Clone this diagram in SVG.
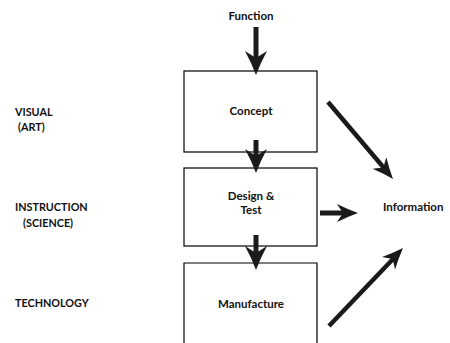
<svg xmlns="http://www.w3.org/2000/svg" width="450" height="343" viewBox="0 0 450 343">
  <style>
    text { font-family: Lato, "Liberation Sans", sans-serif; font-weight: bold; font-size: 11.5px; fill: #111; }
    .caps { font-size: 10.8px; }
    .c { text-anchor: middle; }
    .box { fill: #fff; stroke: #000; stroke-width: 1.2; }
    .shaft { stroke: #1a1a1a; stroke-width: 5; fill: none; }
    .thin { stroke-width: 4.5; }
    .head { fill: #1a1a1a; }
  </style>
  <defs>
    <path id="headV" d="M0,0 Q-13,-5 -24,-11 L-17,0 L-24,11 Q-13,5 0,0 Z"/>
    <path id="headD" d="M0,0 Q-11,-4 -21,-9 L-15,0 L-21,9 Q-11,4 0,0 Z"/>
  </defs>

  <g id="labels">
    <text class="caps" x="15" y="116">VISUAL</text>
    <text class="caps" x="18" y="131">(ART)</text>
    <text class="caps" x="15" y="211">INSTRUCTION</text>
    <text class="caps" x="23" y="227">(SCIENCE)</text>
    <text class="caps" x="15" y="307">TECHNOLOGY</text>
  </g>

  <g id="function">
    <text class="c" x="251" y="20">Function</text>
  </g>

  <g id="concept">
    <rect class="box" x="184" y="71" width="133" height="81"/>
    <text class="c" x="251" y="115">Concept</text>
  </g>

  <g id="design">
    <rect class="box" x="184" y="168" width="133" height="78"/>
    <text class="c" x="251" y="200">Design &amp;</text>
    <text class="c" x="251" y="214">Test</text>
  </g>

  <g id="manufacture">
    <path class="box" d="M184,343 V263 H317 V343"/>
    <text class="c" x="251" y="308">Manufacture</text>
  </g>

  <g id="information">
    <text x="383" y="211">Information</text>
  </g>

  <g id="connectors">
    <line class="shaft" x1="256" y1="27" x2="256" y2="58"/>
    <use href="#headV" class="head" transform="translate(256,75) rotate(90)"/>

    <line class="shaft" x1="256" y1="140" x2="256" y2="156"/>
    <use href="#headV" class="head" transform="translate(256,173) rotate(90)"/>

    <line class="shaft" x1="256" y1="235" x2="256" y2="253"/>
    <use href="#headV" class="head" transform="translate(256,270) rotate(90)"/>

    <line class="shaft" x1="320" y1="213" x2="344" y2="213"/>
    <use href="#headD" class="head" transform="translate(358,213)"/>

    <line class="shaft thin" x1="328" y1="102" x2="384" y2="168"/>
    <use href="#headD" class="head" transform="translate(393,179) rotate(49.8)"/>

    <line class="shaft thin" x1="329" y1="326" x2="393" y2="259"/>
    <use href="#headD" class="head" transform="translate(403,248) rotate(-46.5)"/>
  </g>
</svg>
